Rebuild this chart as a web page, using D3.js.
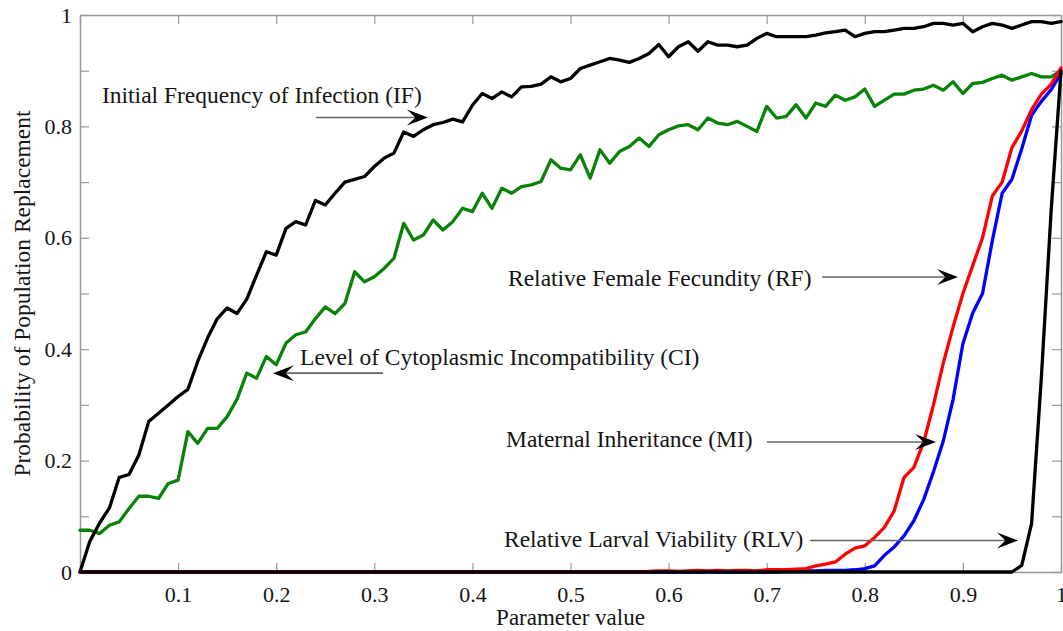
<!DOCTYPE html>
<html>
<head>
<meta charset="utf-8">
<script src="https://cdn.jsdelivr.net/npm/d3@7"></script>
<style>
  html, body { margin: 0; padding: 0; background: #fff; }
  svg { display: block; }
  text { font-family: "Liberation Serif", "Times New Roman", serif; fill: #151515; }
</style>
</head>
<body>
<svg id="chart" width="1063" height="631"></svg>
<script>
// ---------------- data ----------------
// parameter grid 0.00 .. 1.00 (step 0.01)
const paramValues = d3.range(0, 101).map(i => i / 100);

const xTickValues = [0, 0.1, 0.2, 0.3, 0.4, 0.5, 0.6, 0.7, 0.8, 0.9, 1];
const xTickLabels = ["", "0.1", "0.2", "0.3", "0.4", "0.5", "0.6", "0.7", "0.8", "0.9", "1"];
const yTickValues = [0, 0.1, 0.2, 0.3, 0.4, 0.5, 0.6, 0.7, 0.8, 0.9, 1];
const yTickLabels = ["0", "", "0.2", "", "0.4", "", "0.6", "", "0.8", "", "1"];

// Initial Frequency of Infection (IF)
const seriesIF = [
  0, 0.055, 0.088, 0.115, 0.17, 0.175, 0.21, 0.27, 0.285, 0.30,
  0.315, 0.328, 0.378, 0.42, 0.455, 0.474, 0.464, 0.49, 0.533, 0.575,
  0.569, 0.617, 0.629, 0.623, 0.667, 0.659, 0.68, 0.70, 0.705, 0.71,
  0.728, 0.743, 0.752, 0.79, 0.782, 0.794, 0.803, 0.807, 0.813, 0.808,
  0.838, 0.859, 0.85, 0.862, 0.853, 0.871, 0.872, 0.876, 0.889, 0.88,
  0.886, 0.904, 0.91, 0.916, 0.922, 0.919, 0.915, 0.922, 0.931, 0.947,
  0.925, 0.943, 0.952, 0.935, 0.952, 0.946, 0.946, 0.943, 0.946, 0.958,
  0.967, 0.961, 0.961, 0.961, 0.961, 0.964, 0.968, 0.97, 0.973, 0.961,
  0.967, 0.97, 0.97, 0.973, 0.976, 0.976, 0.979, 0.985, 0.985, 0.982,
  0.985, 0.97, 0.979, 0.985, 0.982, 0.976, 0.982, 0.988, 0.988, 0.985,
  0.988
];

// Level of Cytoplasmic Incompatibility (CI)
const seriesCI = [
  0.075, 0.075, 0.069, 0.084, 0.09, 0.114, 0.136, 0.136, 0.132, 0.159,
  0.165, 0.252, 0.231, 0.258, 0.258, 0.279, 0.31, 0.357, 0.348, 0.387,
  0.372, 0.411, 0.426, 0.431, 0.455, 0.476, 0.464, 0.482, 0.539, 0.521,
  0.53, 0.545, 0.563, 0.626, 0.596, 0.605, 0.632, 0.614, 0.629, 0.653,
  0.647, 0.68, 0.653, 0.689, 0.68, 0.692, 0.695, 0.701, 0.74, 0.725,
  0.722, 0.749, 0.707, 0.758, 0.734, 0.755, 0.764, 0.779, 0.764, 0.785,
  0.794, 0.801, 0.803, 0.794, 0.815, 0.806, 0.803, 0.809, 0.80, 0.791,
  0.836, 0.815, 0.818, 0.839, 0.815, 0.842, 0.836, 0.856, 0.847, 0.853,
  0.867, 0.836, 0.847, 0.858, 0.858, 0.865, 0.867, 0.874, 0.865, 0.88,
  0.859, 0.877, 0.879, 0.886, 0.892, 0.883, 0.889, 0.895, 0.889, 0.889,
  0.90
];

// Relative Female Fecundity (RF)
const seriesRF = [
  0, 0, 0, 0, 0, 0, 0, 0, 0, 0,
  0, 0, 0, 0, 0, 0, 0, 0, 0, 0,
  0, 0, 0, 0, 0, 0, 0, 0, 0, 0,
  0, 0, 0, 0, 0, 0, 0, 0, 0, 0,
  0, 0, 0, 0, 0, 0, 0, 0, 0, 0,
  0, 0, 0, 0, 0, 0, 0, 0, 0.001, 0.002,
  0.002, 0.001, 0.002, 0.003, 0.002, 0.003, 0.002, 0.003, 0.003, 0.002,
  0.004, 0.004, 0.004, 0.005, 0.006, 0.011, 0.014, 0.018, 0.032, 0.043,
  0.047, 0.062, 0.08, 0.11, 0.17, 0.188, 0.233, 0.30, 0.375, 0.44,
  0.50, 0.55, 0.60, 0.675, 0.70, 0.762, 0.792, 0.83, 0.858, 0.876,
  0.905
];

// Maternal Inheritance (MI)
const seriesMI = [
  0, 0, 0, 0, 0, 0, 0, 0, 0, 0,
  0, 0, 0, 0, 0, 0, 0, 0, 0, 0,
  0, 0, 0, 0, 0, 0, 0, 0, 0, 0,
  0, 0, 0, 0, 0, 0, 0, 0, 0, 0,
  0, 0, 0, 0, 0, 0, 0, 0, 0, 0,
  0, 0, 0, 0, 0, 0, 0, 0, 0, 0,
  0, 0, 0, 0, 0, 0, 0, 0, 0, 0,
  0, 0, 0.001, 0.002, 0.002, 0.002, 0.003, 0.003, 0.003, 0.004,
  0.006, 0.011, 0.03, 0.045, 0.065, 0.092, 0.13, 0.18, 0.235, 0.31,
  0.41, 0.465, 0.50, 0.595, 0.68, 0.705, 0.76, 0.82, 0.845, 0.866,
  0.895
];

// Relative Larval Viability (RLV)
const seriesRLV = [
  0, 0, 0, 0, 0, 0, 0, 0, 0, 0,
  0, 0, 0, 0, 0, 0, 0, 0, 0, 0,
  0, 0, 0, 0, 0, 0, 0, 0, 0, 0,
  0, 0, 0, 0, 0, 0, 0, 0, 0, 0,
  0, 0, 0, 0, 0, 0, 0, 0, 0, 0,
  0, 0, 0, 0, 0, 0, 0, 0, 0, 0,
  0, 0, 0, 0, 0, 0, 0, 0, 0, 0,
  0, 0, 0, 0, 0, 0, 0, 0, 0, 0,
  0, 0, 0, 0, 0, 0, 0, 0, 0, 0,
  0, 0, 0, 0, 0, 0, 0.012, 0.087, 0.35, 0.65,
  0.90
];

// annotation texts with arrows (data coordinates)
const annotations = [
  { text: "Initial Frequency of Infection (IF)", tx: 0.0224, ty: 0.842, x1: 0.2406, y1: 0.816, x2: 0.3547, y2: 0.816 },
  { text: "Level of Cytoplasmic Incompatibility (CI)", tx: 0.2243, ty: 0.3716, x1: 0.3089, y1: 0.357, x2: 0.1967, y2: 0.357 },
  { text: "Relative Female Fecundity (RF)", tx: 0.4363, ty: 0.5135, x1: 0.7564, y1: 0.5296, x2: 0.895, y2: 0.5296 },
  { text: "Maternal Inheritance (MI)", tx: 0.4343, ty: 0.2244, x1: 0.7003, y1: 0.2334, x2: 0.8726, y2: 0.2334 },
  { text: "Relative Larval Viability (RLV)", tx: 0.4322, ty: 0.0449, x1: 0.7441, y1: 0.0566, x2: 0.9562, y2: 0.0566 }
];

// ---------------- chart ----------------
const svg = d3.select("#chart");
const margin = { left: 80, right: 2, top: 15, bottom: 59 };
const W = 1063, H = 631;
const x = d3.scaleLinear().domain([0, 1]).range([margin.left, W - margin.right]);
const y = d3.scaleLinear().domain([0, 1]).range([H - margin.bottom, margin.top]);

const frameColor = "#999";
const tickLen = 9;

function styleAxis(g) {
  g.selectAll(".domain").attr("stroke", frameColor).attr("stroke-width", 1.5);
  g.selectAll(".tick line").attr("stroke", frameColor).attr("stroke-width", 1.2);
  g.selectAll(".tick text").attr("fill", "#151515");
}

// bottom
svg.append("g")
  .attr("transform", `translate(0,${y(0)})`)
  .call(d3.axisBottom(x).tickValues(xTickValues)
    .tickFormat((d, i) => xTickLabels[i])
    .tickSizeInner(-tickLen).tickSizeOuter(0).tickPadding(14))
  .call(styleAxis)
  .call(g => g.selectAll(".tick text").style("font-size", "22px").style("font-family", "Liberation Serif, serif"));

// top
svg.append("g")
  .attr("transform", `translate(0,${y(1)})`)
  .call(d3.axisTop(x).tickValues(xTickValues).tickFormat("")
    .tickSizeInner(-tickLen).tickSizeOuter(0))
  .call(styleAxis);

// left
svg.append("g")
  .attr("transform", `translate(${x(0)},0)`)
  .call(d3.axisLeft(y).tickValues(yTickValues)
    .tickFormat((d, i) => yTickLabels[i])
    .tickSizeInner(-tickLen).tickSizeOuter(0).tickPadding(8))
  .call(styleAxis)
  .call(g => g.selectAll(".tick text").style("font-size", "22px").style("font-family", "Liberation Serif, serif"));

// right
svg.append("g")
  .attr("transform", `translate(${x(1)},0)`)
  .call(d3.axisRight(y).tickValues(yTickValues).tickFormat("")
    .tickSizeInner(-tickLen).tickSizeOuter(0))
  .call(styleAxis);

// axis titles
svg.append("text")
  .attr("x", (x(0) + x(1)) / 2)
  .attr("y", 625)
  .attr("text-anchor", "middle")
  .style("font-size", "23px")
  .text("Parameter value");

svg.append("text")
  .attr("transform", `translate(30,${(y(0) + y(1)) / 2}) rotate(-90)`)
  .attr("text-anchor", "middle")
  .style("font-size", "23.5px")
  .text("Probability of Population Replacement");

// lines (RLV drawn last so the zero baseline stays black)
const line = d3.line().x((d, i) => x(paramValues[i])).y(d => y(d));
const seriesList = [
  { name: "CI", values: seriesCI, color: "#0a820a" },
  { name: "IF", values: seriesIF, color: "#000000" },
  { name: "MI", values: seriesMI, color: "#0000ff" },
  { name: "RF", values: seriesRF, color: "#ff0000" },
  { name: "RLV", values: seriesRLV, color: "#000000" }
];
svg.append("g").selectAll("path")
  .data(seriesList)
  .join("path")
  .attr("d", d => line(d.values))
  .attr("fill", "none")
  .attr("stroke", d => d.color)
  .attr("stroke-width", 3.3)
  .attr("stroke-linejoin", "round")
  .attr("stroke-linecap", "round");

// annotations
const ann = svg.append("g");
annotations.forEach(a => {
  ann.append("text")
    .attr("x", x(a.tx)).attr("y", y(a.ty))
    .style("font-size", "23.5px")
    .text(a.text);
  const X1 = x(a.x1), Y1 = y(a.y1), X2 = x(a.x2), Y2 = y(a.y2);
  const ang = Math.atan2(Y2 - Y1, X2 - X1);
  const L = 21, Wd = 8;
  const nx = X2 - Math.cos(ang) * L * 0.6, ny = Y2 - Math.sin(ang) * L * 0.6;
  ann.append("line")
    .attr("x1", X1).attr("y1", Y1).attr("x2", nx).attr("y2", ny)
    .attr("stroke", "#666").attr("stroke-width", 1.6);
  const head = d3.path();
  head.moveTo(0, 0);
  head.lineTo(-L, -Wd);
  head.lineTo(-L * 0.6, 0);
  head.lineTo(-L, Wd);
  head.closePath();
  ann.append("path")
    .attr("d", head.toString())
    .attr("transform", `translate(${X2},${Y2}) rotate(${ang * 180 / Math.PI})`)
    .attr("fill", "#000");
});
</script>
</body>
</html>
